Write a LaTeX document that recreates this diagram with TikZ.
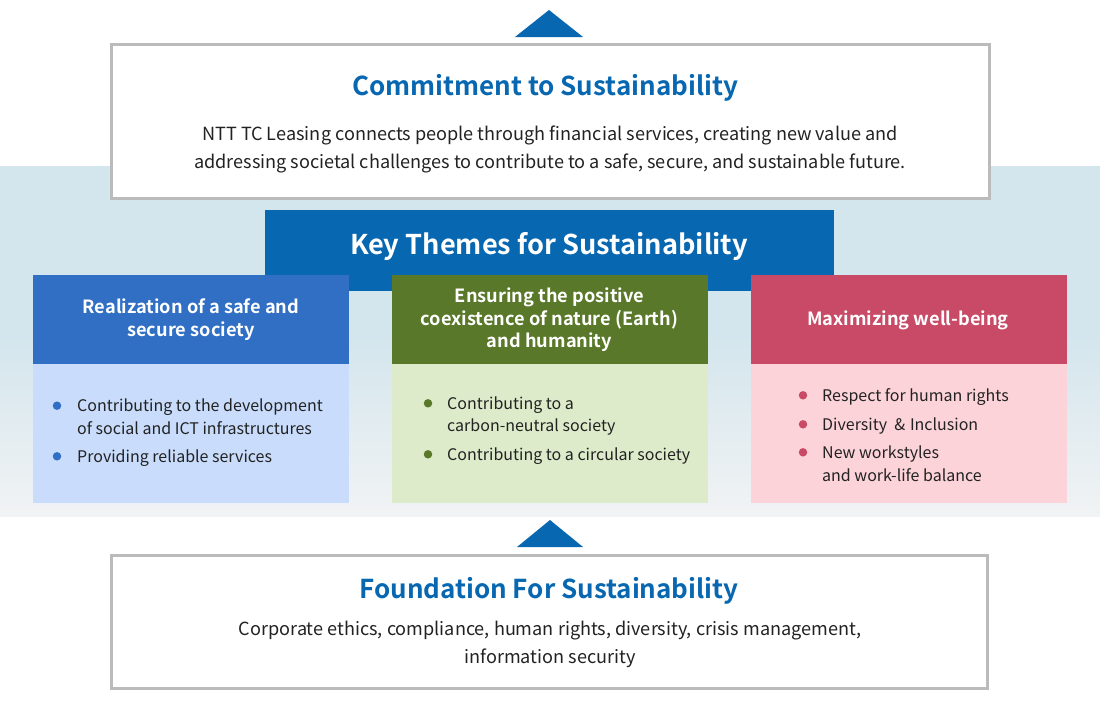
\documentclass[tikz,border=0pt]{standalone}
\usepackage{fontspec}
\setmainfont{Noto Sans CJK JP}[BoldFont={Noto Sans CJK JP Bold}]
\definecolor{keyblue}{HTML}{0767B1}
\definecolor{cola}{HTML}{306FC4}
\definecolor{colabody}{HTML}{C9DCFB}
\definecolor{colb}{HTML}{5A7829}
\definecolor{colbbody}{HTML}{DDEBCB}
\definecolor{colc}{HTML}{C84A67}
\definecolor{colcbody}{HTML}{FDD3DA}
\definecolor{bandtop}{HTML}{D3E5ED}
\definecolor{bandlow}{HTML}{F1F3F4}
\definecolor{frame}{HTML}{BBBBBB}
\definecolor{ink}{HTML}{222222}
\tikzset{
  framebox/.style={draw=frame, line width=3pt, fill=white, inner sep=0pt},
  titletxt/.style={font=\bfseries\fontsize{26}{30}\selectfont, text=keyblue, inner sep=0pt, anchor=base},
  bodytxt/.style={font=\fontsize{18.1}{28}\selectfont, text=ink, inner sep=0pt, anchor=base},
  headtxt/.style={font=\bfseries\fontsize{18.2}{23}\selectfont, text=white, inner sep=0pt, anchor=base},
  itemtxt/.style={font=\fontsize{16}{22}\selectfont, text=ink, inner sep=0pt, anchor=base west},
  dotmark/.style={circle, inner sep=0pt, minimum size=8.5pt},
}
\begin{document}
\begin{tikzpicture}[x=1pt,y=-1pt]
\useasboundingbox (0,0) rectangle (1100,715);
\fill[white] (0,0) rectangle (1100,715);
% background band
\fill[bandtop] (0,166) rectangle (1100,331);
\shade[top color=bandtop, bottom color=bandlow] (0,330) rectangle (1100,516);

% top triangle
\coordinate (ta) at (549,10);
\coordinate (tl) at (515,37);
\coordinate (tr) at (583,37);
\fill[keyblue] (ta) -- (tl) -- (tr) -- cycle;

% commitment box
\node[framebox, minimum width=878pt, minimum height=154pt] (commit) at (550.5,121.5) {};
\node[titletxt] (committitle) at (545,95.7) {Commitment to Sustainability};
\node[bodytxt] (commitl1) at (550,140) {NTT TC Leasing connects people through financial services, creating new value and};
\node[bodytxt] (commitl2) at (550,168.3) {addressing societal challenges to contribute to a safe, secure, and sustainable future.};

% key themes
\node[fill=keyblue, inner sep=0pt, minimum width=569pt, minimum height=81pt] (key) at (549.5,250.5) {};
\node[titletxt, text=white, font=\bfseries\fontsize{27.2}{30}\selectfont] (keytitle) at (549,254.3) {Key Themes for Sustainability};

% column 1
\node[fill=cola, inner sep=0pt, minimum width=316pt, minimum height=89pt] (h1) at (191,319.5) {};
\node[fill=colabody, inner sep=0pt, minimum width=316pt, minimum height=139pt] (b1) at (191,433.5) {};
\node[headtxt] (h1l1) at (191,313) {Realization of a safe and};
\node[headtxt] (h1l2) at (191,336) {secure society};
\node[dotmark, fill=cola] (d11) at (57,405.7) {};
\node[itemtxt] (i11a) at (77,411.5) {Contributing to the development};
\node[itemtxt] (i11b) at (77,434) {of social and ICT infrastructures};
\node[dotmark, fill=cola] (d12) at (57,456.3) {};
\node[itemtxt] (i12) at (77,462) {Providing reliable services};

% column 2
\node[fill=colb, inner sep=0pt, minimum width=316pt, minimum height=89pt] (h2) at (550,319.5) {};
\node[fill=colbbody, inner sep=0pt, minimum width=316pt, minimum height=139pt] (b2) at (550,433.5) {};
\node[headtxt] (h2l1) at (549.5,302.7) {Ensuring the positive};
\node[headtxt] (h2l2) at (549.5,325) {coexistence of nature (Earth)};
\node[headtxt] (h2l3) at (549.5,347) {and humanity};
\node[dotmark, fill=colb] (d21) at (428,403.3) {};
\node[itemtxt] (i21a) at (447,409) {Contributing to a};
\node[itemtxt] (i21b) at (447,431) {carbon-neutral society};
\node[dotmark, fill=colb] (d22) at (428,454.3) {};
\node[itemtxt] (i22) at (447,460) {Contributing to a circular society};

% column 3
\node[fill=colc, inner sep=0pt, minimum width=316pt, minimum height=89pt] (h3) at (909,319.5) {};
\node[fill=colcbody, inner sep=0pt, minimum width=316pt, minimum height=139pt] (b3) at (909,433.5) {};
\node[headtxt] (h3l1) at (908,325.7) {Maximizing well-being};
\node[dotmark, fill=colc] (d31) at (803,395.3) {};
\node[itemtxt] (i31) at (822,401) {Respect for human rights};
\node[dotmark, fill=colc] (d32) at (803,424.3) {};
\node[itemtxt] (i32) at (822,430) {Diversity\hspace{0.45em}\&\hspace{0.3em}Inclusion};
\node[dotmark, fill=colc] (d33) at (803,452.3) {};
\node[itemtxt] (i33a) at (822,458) {New workstyles};
\node[itemtxt] (i33b) at (822,481) {and work-life balance};

% bottom triangle
\coordinate (ba) at (550,520);
\coordinate (bl) at (517,547);
\coordinate (br) at (583,547);
\fill[keyblue] (ba) -- (bl) -- (br) -- cycle;

% foundation box
\node[framebox, minimum width=876pt, minimum height=133pt] (found) at (549.5,622) {};
\node[titletxt] (foundtitle) at (549,598.3) {Foundation For Sustainability};
\node[bodytxt] (foundl1) at (550,635.7) {Corporate ethics, compliance, human rights, diversity, crisis management,};
\node[bodytxt] (foundl2) at (550,663.7) {information security};
\end{tikzpicture}
\end{document}
